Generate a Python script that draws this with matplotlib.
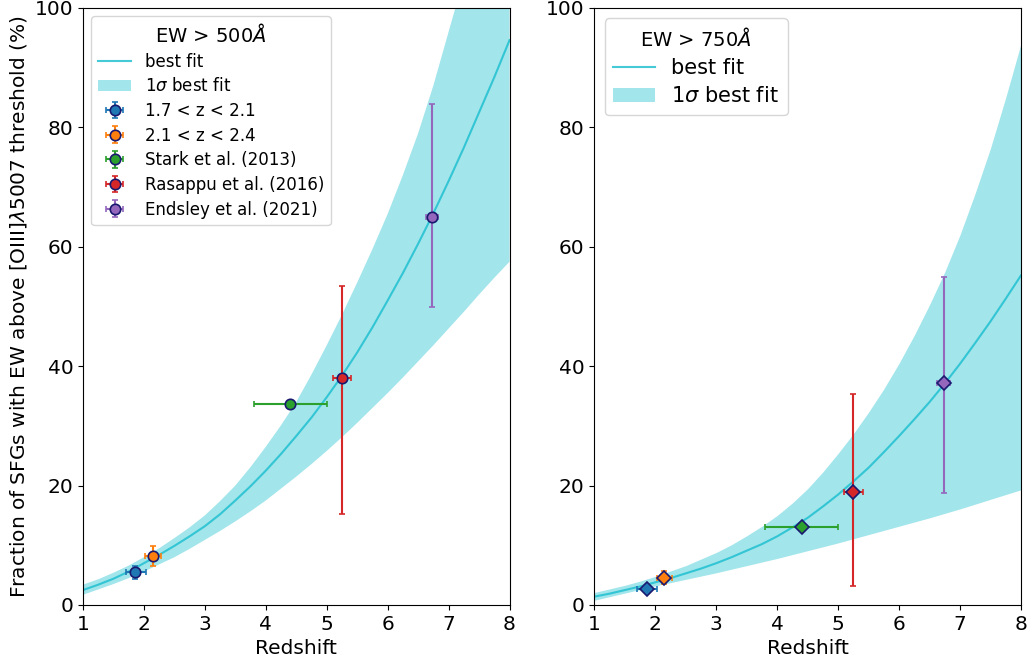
import numpy as np
import matplotlib.pyplot as plt

# redshift grid the curves were read on
z_grid = [1.0, 1.25, 1.5, 1.75, 2.0, 2.25, 2.5, 2.75, 3.0, 3.25, 3.5, 3.75, 4.0, 4.25, 4.5,
          4.75, 5.0, 5.25, 5.5, 5.75, 6.0, 6.25, 6.5, 6.75, 7.0, 7.25, 7.5, 7.75, 8.0]

# EW > 500 A : best fit and 1 sigma band
fit500 = [2.5, 3.4, 4.4, 5.6, 7.0, 8.4, 9.9, 11.5, 13.2, 15.2, 17.5, 19.9, 22.5, 25.3, 28.3,
          31.4, 34.8, 38.4, 42.3, 46.5, 51.0, 55.6, 60.5, 65.6, 71.0, 76.6, 82.5, 88.4, 94.6]
up500 = [3.4, 4.3, 5.4, 6.6, 8.0, 9.5, 11.2, 13.0, 15.0, 17.4, 20.0, 23.1, 26.5, 30.1, 34.0,
         38.6, 43.5, 48.6, 54.0, 59.6, 65.5, 72.0, 79.0, 87.0, 96.0, 105.0, 115.0, 125.0, 135.0]
lo500 = [1.7, 2.6, 3.5, 4.5, 5.6, 6.8, 8.0, 9.4, 10.9, 12.4, 14.0, 15.7, 17.5, 19.5, 21.5,
         23.6, 25.8, 28.1, 30.5, 33.0, 35.5, 38.1, 40.8, 43.5, 46.3, 49.1, 52.0, 54.8, 57.5]

# EW > 750 A
fit750 = [1.4, 1.9, 2.5, 3.1, 3.8, 4.5, 5.3, 6.1, 7.0, 8.0, 9.1, 10.2, 11.5, 13.0, 14.6,
          16.5, 18.5, 20.7, 23.0, 25.6, 28.3, 31.1, 34.0, 37.1, 40.4, 43.9, 47.5, 51.3, 55.2]
up750 = [2.1, 2.7, 3.3, 4.0, 4.8, 5.7, 6.6, 7.7, 8.8, 10.1, 11.6, 13.2, 15.0, 17.1, 19.5,
         22.3, 25.4, 28.7, 32.3, 36.2, 40.5, 45.2, 50.3, 55.8, 62.0, 69.0, 76.5, 85.0, 94.0]
lo750 = [0.8, 1.4, 2.0, 2.6, 3.2, 3.75, 4.3, 4.85, 5.4, 6.0, 6.6, 7.2, 7.8, 8.45, 9.1,
         9.75, 10.4, 11.1, 11.8, 12.5, 13.2, 13.9, 14.6, 15.35, 16.1, 16.9, 17.7, 18.5, 19.3]

# data points
labels = ['1.7 < z < 2.1', '2.1 < z < 2.4', 'Stark et al. (2013)',
          'Rasappu et al. (2016)', 'Endsley et al. (2021)']
colors = ['tab:blue', 'tab:orange', 'tab:green', 'tab:red', 'tab:purple']
z_pts = [1.86, 2.15, 4.4, 5.25, 6.73]
z_lo = [0.16, 0.13, 0.6, 0.15, 0.1]
z_hi = [0.17, 0.13, 0.6, 0.15, 0.1]

f500 = [5.5, 8.2, 33.7, 38.1, 65.0]
f500_lo = [1.1, 1.6, 0.0, 22.9, 15.1]
f500_hi = [1.1, 1.6, 0.0, 15.4, 18.9]

f750 = [2.7, 4.6, 13.0, 19.0, 37.1]
f750_lo = [0.4, 1.1, 0.0, 15.8, 18.4]
f750_hi = [0.4, 1.1, 0.0, 16.3, 17.8]

fig, axes = plt.subplots(1, 2, figsize=(10.32, 6.63), dpi=100)
plt.subplots_adjust(left=0.0804, right=0.9893, bottom=0.0875, top=0.988, wspace=0.199)


def panel(ax, fit, lo, up, f, flo, fhi, marker, title, legsize, show_pts):
    ax.plot(z_grid, fit, color='tab:cyan', alpha=0.8, lw=1.5, label='best fit')
    ax.fill_between(z_grid, lo, up, color='tab:cyan', alpha=0.4, lw=0,
                    label=r'1$\sigma$ best fit')
    for i in range(len(z_pts)):
        ax.errorbar(z_pts[i], f[i], xerr=[[z_lo[i]], [z_hi[i]]],
                    yerr=[[flo[i]], [fhi[i]]], fmt=marker, color=colors[i],
                    mec='midnightblue', mew=1.2, ms=7.5,
                    capsize=2.5, elinewidth=1.5, label=labels[i] if show_pts else None)
    ax.set_xlim(1, 8)
    ax.set_ylim(0, 100)
    ax.set_xticks(range(1, 9))
    ax.set_yticks(range(0, 101, 20))
    ax.tick_params(labelsize=14.5)
    ax.set_xlabel('Redshift', fontsize=14.5)
    ax.legend(loc='upper left', title=title, fontsize=legsize, title_fontsize=14,
              labelspacing=0.4)


panel(axes[0], fit500, lo500, up500, f500, f500_lo, f500_hi, 'o', r'EW > 500$\AA$', 12, True)
panel(axes[1], fit750, lo750, up750, f750, f750_lo, f750_hi, 'D', r'EW > 750$\AA$', 15, False)
axes[0].set_ylabel(r'Fraction of SFGs with EW above [OIII]$\lambda$5007 threshold (%)', fontsize=14.5)

plt.savefig('out.png', dpi=100)
